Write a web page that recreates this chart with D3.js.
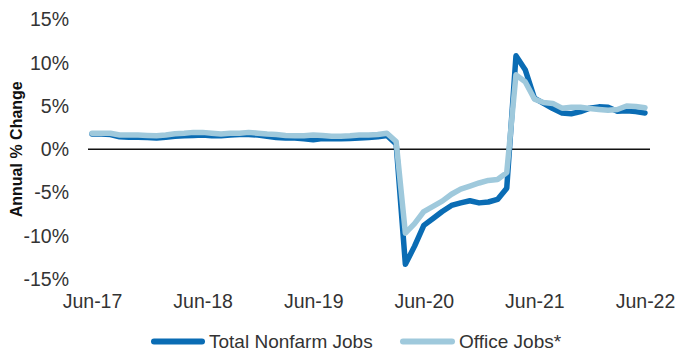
<!DOCTYPE html>
<html>
<head>
<meta charset="utf-8">
<script src="https://cdn.jsdelivr.net/npm/d3@7"></script>
<style>
  html, body { margin: 0; padding: 0; background: #fff; }
  svg { display: block; }
  text { font-family: "Liberation Sans", Arial, sans-serif; fill: #333; }
</style>
</head>
<body>
<svg id="chart" width="689" height="352"></svg>
<script>
// Monthly categories, Jun-2017 through Jun-2022
const fmt = d3.timeFormat("%b-%y");
const months = d3.timeMonths(new Date(2017, 5, 1), new Date(2022, 6, 1)).map(fmt);

// Annual % change, total nonfarm employment
const totalNonfarm = [
  1.75, 1.75, 1.7, 1.45, 1.4, 1.4, 1.35, 1.3, 1.4, 1.5, 1.55, 1.6,
  1.65, 1.55, 1.55, 1.65, 1.7, 1.7, 1.65, 1.5, 1.35, 1.3, 1.3, 1.2,
  1.1, 1.25, 1.2, 1.2, 1.25, 1.3, 1.35, 1.45, 1.6, 0.6, -13.3, -11.2,
  -8.8, -8.0, -7.2, -6.5, -6.2, -5.95, -6.2, -6.1, -5.8, -4.5, 10.8, 9.2,
  5.9, 5.3, 4.7, 4.2, 4.1, 4.35, 4.75, 4.9, 4.85, 4.4, 4.45, 4.35,
  4.2
];

// Annual % change, office-using employment
const officeJobs = [
  1.85, 1.85, 1.85, 1.65, 1.65, 1.65, 1.6, 1.55, 1.65, 1.8, 1.85, 1.95,
  1.95, 1.85, 1.75, 1.85, 1.85, 1.95, 1.85, 1.75, 1.7, 1.6, 1.55, 1.55,
  1.65, 1.6, 1.5, 1.5, 1.55, 1.65, 1.65, 1.7, 1.85, 0.9, -9.7, -8.6,
  -7.2, -6.6, -6.0, -5.2, -4.6, -4.25, -3.9, -3.6, -3.5, -2.7, 8.6, 7.8,
  5.8, 5.4, 5.3, 4.75, 4.85, 4.85, 4.7, 4.6, 4.5, 4.6, 5.0, 4.95,
  4.8
];

const xTickLabels = ["Jun-17", "Jun-18", "Jun-19", "Jun-20", "Jun-21", "Jun-22"];
const yTicks = [-15, -10, -5, 0, 5, 10, 15];

const seriesNames = ["Total Nonfarm Jobs", "Office Jobs*"];
const seriesColors = ["#0a6cb4", "#9fc9dc"];

const svg = d3.select("#chart");

const x = d3.scalePoint().domain(months).range([92, 645]);
const y = d3.scaleLinear().domain([-15, 15]).range([279, 19.5]);

// Y axis labels (no axis line)
const yAxis = d3.axisLeft(y)
  .tickValues(yTicks)
  .tickFormat(d => d + "%")
  .tickSize(0)
  .tickPadding(0);
const yg = svg.append("g").attr("transform", "translate(69,0)").call(yAxis);
yg.select(".domain").remove();
yg.selectAll("text")
  .style("font-size", "19.5px")
  .style("font-family", '"Liberation Sans", Arial, sans-serif')
  .attr("fill", "#333");

// X axis labels
const xAxis = d3.axisBottom(x)
  .tickValues(xTickLabels)
  .tickSize(0)
  .tickPadding(0);
const xg = svg.append("g").attr("transform", "translate(0,294)").call(xAxis);
xg.select(".domain").remove();
xg.selectAll("text")
  .style("font-size", "19.5px")
  .style("font-family", '"Liberation Sans", Arial, sans-serif')
  .attr("fill", "#333");

// Y axis title
svg.append("text")
  .attr("transform", `translate(22,${y(0)}) rotate(-90)`)
  .attr("text-anchor", "middle")
  .style("font-size", "16px")
  .style("font-weight", "bold")
  .style("fill", "#111")
  .text("Annual % Change");

// Zero line
svg.append("line")
  .attr("x1", 88).attr("x2", 650)
  .attr("y1", y(0)).attr("y2", y(0))
  .attr("stroke", "#111")
  .attr("stroke-width", 1.5);

const line = d3.line()
  .x((d, i) => x(months[i]))
  .y(d => y(d));

svg.append("path")
  .datum(totalNonfarm)
  .attr("d", line)
  .attr("fill", "none")
  .attr("stroke", seriesColors[0])
  .attr("stroke-width", 5.5)
  .attr("stroke-linejoin", "round")
  .attr("stroke-linecap", "round");

svg.append("path")
  .datum(officeJobs)
  .attr("d", line)
  .attr("fill", "none")
  .attr("stroke", seriesColors[1])
  .attr("stroke-width", 5.5)
  .attr("stroke-linejoin", "round")
  .attr("stroke-linecap", "round");

// Legend
const legendY = 341.5;
const legendItems = [
  { name: seriesNames[0], color: seriesColors[0], x0: 154, x1: 202, tx: 209 },
  { name: seriesNames[1], color: seriesColors[1], x0: 403, x1: 452, tx: 459 }
];
const lg = svg.append("g");
legendItems.forEach(it => {
  lg.append("line")
    .attr("x1", it.x0).attr("x2", it.x1)
    .attr("y1", legendY).attr("y2", legendY)
    .attr("stroke", it.color)
    .attr("stroke-width", 6)
    .attr("stroke-linecap", "round");
  lg.append("text")
    .attr("x", it.tx).attr("y", legendY)
    .attr("dy", "0.35em")
    .style("font-size", "19px")
    .text(it.name);
});
</script>
</body>
</html>
